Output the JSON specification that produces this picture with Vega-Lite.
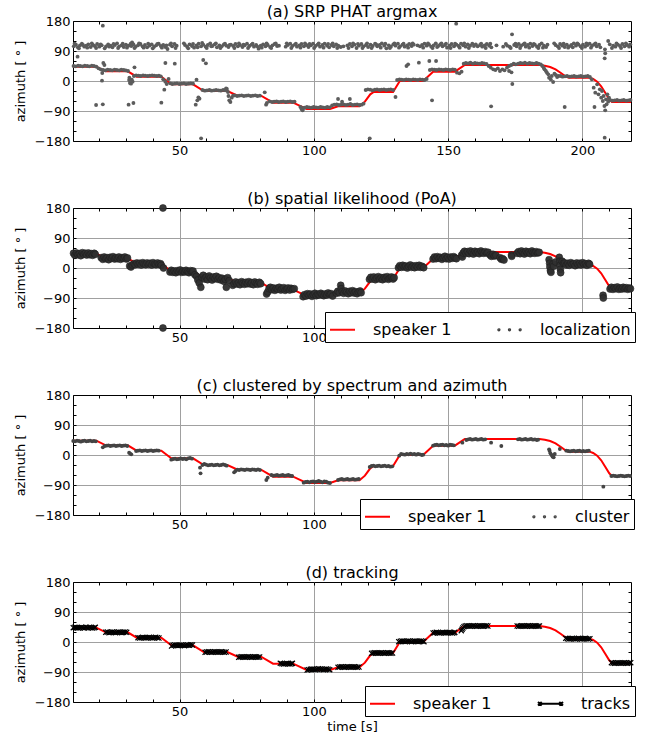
{
"$schema": "https://vega.github.io/schema/vega-lite/v6.json",
"padding": {"left": 13, "top": 3, "right": 8, "bottom": 1},
"background": "white",
"spacing": 32,
"config": {
  "font": "DejaVu Sans",
  "view": {"stroke": "black", "strokeWidth": 1},
  "title": {"fontSize": 16, "fontWeight": "normal", "font": "DejaVu Sans", "offset": -5, "anchor": "middle", "frame": "group", "color": "black"},
  "axis": {"domain": false, "tickColor": "black", "tickSize": -3, "tickWidth": 1, "labelFontSize": 13, "labelFont": "DejaVu Sans", "labelColor": "black", "titleFontSize": 13, "titleFont": "DejaVu Sans", "titleFontWeight": "normal", "titleColor": "black", "labelPadding": 6, "labelOverlap": false, "labelFlush": false, "labelBound": false, "gridWidth": 1},
  "axisY": {"titlePadding": 7},
  "legend": {"orient": "none", "direction": "horizontal", "title": null, "strokeColor": "black", "fillColor": "white", "padding": 4, "labelFontSize": 16, "labelFont": "DejaVu Sans", "labelColor": "black", "symbolSize": 625, "symbolStrokeWidth": 2, "columnPadding": 42, "labelOffset": 17, "cornerRadius": 0}
},
"resolve": {"scale": {"color": "independent", "shape": "independent"}, "legend": {"color": "independent", "shape": "independent"}},
"datasets": {
"gt": [{"t":10.3,"a":43},{"t":19,"a":43},{"t":22.5,"a":29},{"t":30.7,"a":29},{"t":34,"a":13},{"t":43.2,"a":13},{"t":46.9,"a":-10},{"t":55,"a":-10},{"t":59,"a":-30},{"t":67.8,"a":-30},{"t":71.8,"a":-45},{"t":80.5,"a":-45},{"t":84.8,"a":-65},{"t":92.3,"a":-65},{"t":97.3,"a":-84},{"t":106,"a":-84},{"t":109,"a":-76},{"t":117,"a":-76},{"t":119,"a":-62},{"t":121,"a":-40},{"t":122.3,"a":-33},{"t":129.5,"a":-33},{"t":132,"a":0},{"t":140.7,"a":0},{"t":144.4,"a":28},{"t":152.5,"a":28},{"t":156.2,"a":48},{"t":184,"a":48},{"t":186,"a":46},{"t":188,"a":42},{"t":190,"a":35},{"t":192,"a":24},{"t":193.8,"a":13},{"t":195,"a":10},{"t":202.7,"a":10},{"t":204,"a":6},{"t":205.5,"a":-2},{"t":207,"a":-16},{"t":208.5,"a":-35},{"t":210,"a":-55},{"t":211,"a":-63},{"t":218.1,"a":-63}],
"la": [
{"t":10.6,"a":104},{"t":11.4,"a":109},{"t":12.1,"a":101},{"t":12.9,"a":107},{"t":13.6,"a":112},{"t":14.5,"a":103},{"t":15.2,"a":106},{"t":16.0,"a":110},{"t":16.9,"a":102},{"t":17.7,"a":108},{"t":18.4,"a":105},{"t":19.3,"a":111},{"t":20.1,"a":103},{"t":21.0,"a":107},{"t":22.6,"a":104},{"t":23.4,"a":110},{"t":24.3,"a":106},{"t":25.0,"a":101},{"t":25.9,"a":108},{"t":26.7,"a":113},{"t":27.5,"a":104},{"t":28.4,"a":107},{"t":29.2,"a":102},{"t":30.0,"a":109},{"t":30.9,"a":106},{"t":31.8,"a":112},{"t":32.3,"a":116},{"t":32.8,"a":110},{"t":33.6,"a":103},{"t":34.5,"a":107},{"t":35.4,"a":111},{"t":36.2,"a":104},{"t":37.1,"a":108},{"t":37.9,"a":101},{"t":38.8,"a":106},{"t":39.6,"a":110},{"t":40.5,"a":103},{"t":41.3,"a":107},{"t":42.2,"a":112},{"t":43.0,"a":105},{"t":43.9,"a":108},{"t":44.7,"a":102},{"t":45.5,"a":96},{"t":46.4,"a":109},{"t":47.2,"a":104},{"t":48.1,"a":111},{"t":48.9,"a":106},{"t":52.0,"a":108},{"t":52.8,"a":103},{"t":53.7,"a":110},{"t":54.6,"a":105},{"t":55.4,"a":100},{"t":56.3,"a":107},{"t":57.1,"a":112},{"t":58.0,"a":104},{"t":58.8,"a":109},{"t":59.7,"a":103},{"t":60.5,"a":108},{"t":61.4,"a":113},{"t":62.2,"a":105},{"t":63.1,"a":110},{"t":63.9,"a":101},{"t":64.8,"a":107},{"t":65.7,"a":104},{"t":66.5,"a":110},{"t":67.4,"a":106},{"t":68.2,"a":102},{"t":69.1,"a":109},{"t":70.0,"a":105},{"t":70.8,"a":111},{"t":71.7,"a":104},{"t":72.5,"a":108},{"t":73.4,"a":102},{"t":74.2,"a":107},{"t":75.1,"a":112},{"t":76.0,"a":105},{"t":76.8,"a":109},{"t":77.7,"a":103},{"t":78.5,"a":108},{"t":79.4,"a":97},{"t":80.2,"a":106},{"t":81.1,"a":110},{"t":82.0,"a":104},{"t":82.8,"a":108},{"t":83.7,"a":102},{"t":84.6,"a":107},{"t":85.4,"a":111},{"t":86.3,"a":105},{"t":89.5,"a":103},{"t":90.3,"a":108},{"t":91.2,"a":112},{"t":92.0,"a":105},{"t":92.9,"a":109},{"t":93.7,"a":103},{"t":94.6,"a":107},{"t":95.4,"a":111},{"t":96.3,"a":104},{"t":97.2,"a":108},{"t":98.0,"a":102},{"t":98.9,"a":107},{"t":99.7,"a":112},{"t":100.6,"a":105},{"t":101.4,"a":109},{"t":102.3,"a":103},{"t":103.2,"a":108},{"t":104.0,"a":112},{"t":104.9,"a":106},{"t":105.7,"a":101},{"t":106.6,"a":108},{"t":107.4,"a":104},{"t":108.3,"a":110},{"t":109.1,"a":106},{"t":110.0,"a":102},{"t":112.5,"a":107},{"t":113.4,"a":111},{"t":114.2,"a":104},{"t":115.1,"a":109},{"t":115.9,"a":99},{"t":116.8,"a":106},{"t":117.7,"a":111},{"t":118.5,"a":104},{"t":119.4,"a":108},{"t":120.2,"a":102},{"t":121.1,"a":109},{"t":121.9,"a":105},{"t":122.8,"a":112},{"t":123.6,"a":104},{"t":124.5,"a":108},{"t":125.3,"a":113},{"t":126.2,"a":106},{"t":127.0,"a":98},{"t":127.9,"a":107},{"t":128.7,"a":103},{"t":129.6,"a":110},{"t":130.4,"a":106},{"t":131.3,"a":112},{"t":132.1,"a":104},{"t":133.0,"a":109},{"t":133.8,"a":103},{"t":134.7,"a":107},{"t":135.5,"a":111},{"t":136.4,"a":105},{"t":137.2,"a":109},{"t":139.5,"a":104},{"t":140.3,"a":108},{"t":141.2,"a":112},{"t":142.0,"a":106},{"t":142.9,"a":109},{"t":143.7,"a":103},{"t":144.6,"a":107},{"t":145.4,"a":113},{"t":146.3,"a":105},{"t":147.1,"a":110},{"t":147.9,"a":104},{"t":148.8,"a":108},{"t":149.6,"a":100},{"t":150.5,"a":106},{"t":151.3,"a":111},{"t":152.2,"a":104},{"t":153.0,"a":172},{"t":153.1,"a":109},{"t":153.9,"a":105},{"t":154.8,"a":112},{"t":155.6,"a":107},{"t":156.5,"a":103},{"t":157.3,"a":110},{"t":158.2,"a":106},{"t":159.0,"a":112},{"t":161.0,"a":104},{"t":161.9,"a":108},{"t":162.7,"a":103},{"t":163.6,"a":107},{"t":164.4,"a":111},{"t":165.3,"a":106},{"t":166.1,"a":101},{"t":172.0,"a":106},{"t":172.9,"a":103},{"t":173.8,"a":140},{"t":174.6,"a":108},{"t":175.5,"a":104},{"t":176.3,"a":111},{"t":177.2,"a":106},{"t":178.0,"a":110},{"t":178.9,"a":103},{"t":179.7,"a":108},{"t":180.6,"a":112},{"t":181.4,"a":105},{"t":182.3,"a":109},{"t":183.1,"a":103},{"t":184.0,"a":108},{"t":184.8,"a":113},{"t":185.7,"a":106},{"t":186.5,"a":102},{"t":190.0,"a":108},{"t":190.8,"a":104},{"t":191.7,"a":111},{"t":192.5,"a":106},{"t":193.4,"a":102},{"t":194.2,"a":109},{"t":195.1,"a":104},{"t":195.9,"a":108},{"t":196.8,"a":113},{"t":197.6,"a":106},{"t":198.5,"a":110},{"t":199.3,"a":104},{"t":200.2,"a":109},{"t":201.0,"a":103},{"t":201.9,"a":108},{"t":202.7,"a":112},{"t":203.6,"a":106},{"t":204.4,"a":110},{"t":205.3,"a":104},{"t":206.2,"a":109},{"t":208.4,"a":95},{"t":208.5,"a":83},{"t":208.3,"a":68},{"t":210.2,"a":110},{"t":211.5,"a":106},{"t":212.3,"a":103},{"t":213.2,"a":109},{"t":214.0,"a":105},{"t":214.9,"a":111},{"t":215.7,"a":104},{"t":216.6,"a":108},{"t":217.4,"a":103},
{"t":10.9,"a":112},{"t":12.5,"a":98},{"t":14.0,"a":108},{"t":15.6,"a":100},{"t":17.3,"a":113},{"t":18.9,"a":99},{"t":20.6,"a":110},{"t":22.1,"a":98},{"t":23.8,"a":103},{"t":25.4,"a":111},{"t":27.1,"a":99},{"t":28.8,"a":112},{"t":30.4,"a":100},{"t":32.0,"a":105},{"t":33.2,"a":99},{"t":34.9,"a":113},{"t":36.6,"a":100},{"t":38.3,"a":112},{"t":40.0,"a":98},{"t":41.7,"a":111},{"t":43.4,"a":100},{"t":45.1,"a":107},{"t":46.8,"a":113},{"t":48.5,"a":99},{"t":51.6,"a":113},{"t":53.2,"a":98},{"t":55.0,"a":111},{"t":56.7,"a":101},{"t":58.4,"a":114},{"t":60.1,"a":99},{"t":61.8,"a":104},{"t":63.5,"a":113},{"t":65.2,"a":99},{"t":66.9,"a":112},{"t":68.6,"a":108},{"t":70.4,"a":99},{"t":72.1,"a":113},{"t":73.8,"a":109},{"t":75.5,"a":99},{"t":77.2,"a":112},{"t":78.9,"a":104},{"t":80.6,"a":100},{"t":82.4,"a":113},{"t":84.1,"a":99},{"t":85.8,"a":113},{"t":87.0,"a":106},{"t":89.9,"a":113},{"t":91.6,"a":99},{"t":93.3,"a":112},{"t":95.0,"a":100},{"t":96.7,"a":113},{"t":98.4,"a":111},{"t":100.1,"a":99},{"t":101.8,"a":113},{"t":103.6,"a":100},{"t":105.3,"a":111},{"t":107.0,"a":113},{"t":108.7,"a":99},{"t":111.0,"a":104},{"t":112.9,"a":99},{"t":114.6,"a":113},{"t":116.4,"a":111},{"t":118.1,"a":99},{"t":119.8,"a":113},{"t":121.5,"a":99},{"t":123.2,"a":110},{"t":124.9,"a":100},{"t":126.6,"a":112},{"t":128.3,"a":99},{"t":130.0,"a":113},{"t":131.7,"a":100},{"t":133.4,"a":112},{"t":135.1,"a":100},{"t":136.8,"a":113},{"t":138.6,"a":107},{"t":140.7,"a":100},{"t":142.5,"a":113},{"t":144.2,"a":99},{"t":145.9,"a":102},{"t":147.5,"a":113},{"t":149.2,"a":112},{"t":150.9,"a":99},{"t":152.6,"a":112},{"t":154.3,"a":100},{"t":156.0,"a":113},{"t":157.7,"a":99},{"t":159.6,"a":105},{"t":160.3,"a":110},{"t":162.3,"a":112},{"t":164.0,"a":99},{"t":165.7,"a":112},{"t":168.0,"a":107},{"t":170.5,"a":103},{"t":171.5,"a":111},{"t":173.3,"a":99},{"t":175.1,"a":112},{"t":176.8,"a":99},{"t":178.5,"a":113},{"t":180.2,"a":100},{"t":181.9,"a":111},{"t":183.6,"a":99},{"t":185.3,"a":100},{"t":187.0,"a":109},{"t":189.5,"a":113},{"t":191.3,"a":99},{"t":193.0,"a":112},{"t":194.7,"a":100},{"t":196.4,"a":101},{"t":198.1,"a":113},{"t":199.8,"a":99},{"t":201.5,"a":113},{"t":203.2,"a":100},{"t":204.9,"a":113},{"t":206.7,"a":101},{"t":209.6,"a":120},{"t":211.0,"a":99},{"t":212.7,"a":113},{"t":214.4,"a":99},{"t":216.2,"a":113},{"t":217.8,"a":110},
{"t":10.5,"a":45},{"t":11.3,"a":44},{"t":12.2,"a":46},{"t":13.0,"a":45},{"t":13.9,"a":44},{"t":14.7,"a":46},{"t":15.6,"a":45},{"t":16.4,"a":44},{"t":17.3,"a":46},{"t":18.1,"a":45},{"t":19.0,"a":43},{"t":19.8,"a":38},{"t":20.6,"a":35},
{"t":18.9,"a":-72},{"t":21.4,"a":-70},{"t":21.4,"a":166},{"t":12.0,"a":73},{"t":21.6,"a":54},{"t":22.0,"a":48},{"t":21.2,"a":24},{"t":21.1,"a":1},
{"t":21.5,"a":33},{"t":22.4,"a":32},{"t":23.2,"a":34},{"t":24.1,"a":33},{"t":24.9,"a":32},{"t":25.8,"a":34},{"t":26.6,"a":33},{"t":27.5,"a":32},{"t":28.3,"a":34},{"t":29.2,"a":33},{"t":30.0,"a":32},{"t":30.8,"a":30},
{"t":31.2,"a":3},{"t":31.5,"a":-6},{"t":31.9,"a":-8},{"t":32.2,"a":4},{"t":32.5,"a":-2},{"t":31.0,"a":-71},{"t":32.8,"a":-66},{"t":33.2,"a":41},{"t":31.3,"a":10},
{"t":33.0,"a":15},{"t":33.8,"a":17},{"t":34.7,"a":16},{"t":35.5,"a":15},{"t":36.4,"a":17},{"t":37.2,"a":16},{"t":38.1,"a":15},{"t":38.9,"a":16},{"t":39.8,"a":17},{"t":40.6,"a":16},{"t":41.5,"a":15},{"t":42.3,"a":16},{"t":43.0,"a":14},
{"t":43.9,"a":5},{"t":44.7,"a":-2},{"t":43.2,"a":-65},{"t":44.7,"a":54},{"t":44.3,"a":-26},{"t":45.2,"a":-9},{"t":45.9,"a":6},{"t":48.2,"a":52},
{"t":46.5,"a":-7},{"t":47.3,"a":-9},{"t":48.2,"a":-8},{"t":49.0,"a":-7},{"t":49.9,"a":-9},{"t":50.7,"a":-8},{"t":51.6,"a":-7},{"t":52.4,"a":-9},{"t":53.3,"a":-8},{"t":54.1,"a":-7},{"t":55.0,"a":-8},
{"t":56.3,"a":4},{"t":56.0,"a":-71},{"t":56.6,"a":-58},{"t":57.0,"a":-49},{"t":57.4,"a":-53},{"t":58.0,"a":-172},{"t":58.8,"a":63},{"t":59.8,"a":53},
{"t":58.5,"a":-27},{"t":59.4,"a":-29},{"t":60.2,"a":-28},{"t":61.1,"a":-27},{"t":61.9,"a":-29},{"t":62.8,"a":-28},{"t":63.6,"a":-27},{"t":64.5,"a":-28},{"t":65.3,"a":-29},{"t":66.2,"a":-27},{"t":67.0,"a":-28},{"t":67.6,"a":-24},
{"t":67.3,"a":-22},{"t":68.0,"a":-33},{"t":68.2,"a":-45},{"t":68.5,"a":-58},{"t":68.9,"a":-63},{"t":69.4,"a":-50},{"t":69.9,"a":-44},
{"t":70.5,"a":-43},{"t":71.4,"a":-45},{"t":72.2,"a":-44},{"t":73.1,"a":-43},{"t":73.9,"a":-45},{"t":74.8,"a":-44},{"t":75.6,"a":-43},{"t":76.5,"a":-45},{"t":77.3,"a":-44},{"t":78.2,"a":-43},{"t":79.0,"a":-45},{"t":79.9,"a":-44},
{"t":81.7,"a":-34},{"t":82.2,"a":-71},{"t":82.5,"a":-66},
{"t":83.5,"a":-61},{"t":84.4,"a":-63},{"t":85.2,"a":-62},{"t":86.1,"a":-61},{"t":86.9,"a":-63},{"t":87.8,"a":-62},{"t":88.6,"a":-61},{"t":89.5,"a":-63},{"t":90.3,"a":-62},{"t":91.2,"a":-61},{"t":92.0,"a":-63},{"t":92.8,"a":-62},
{"t":95.0,"a":-78},{"t":95.4,"a":-84},{"t":95.8,"a":-88},{"t":96.1,"a":-81},
{"t":96.5,"a":-80},{"t":97.4,"a":-78},{"t":98.2,"a":-79},{"t":99.1,"a":-80},{"t":99.9,"a":-78},{"t":100.8,"a":-79},{"t":101.6,"a":-80},{"t":102.5,"a":-78},{"t":103.3,"a":-79},{"t":104.2,"a":-80},{"t":105.0,"a":-78},{"t":105.9,"a":-79},
{"t":106.8,"a":-73},{"t":107.6,"a":-71},{"t":108.5,"a":-70},{"t":109.3,"a":-72},{"t":110.2,"a":-71},{"t":111.0,"a":-70},{"t":111.9,"a":-72},{"t":112.7,"a":-71},{"t":113.6,"a":-69},{"t":114.4,"a":-72},{"t":115.3,"a":-71},{"t":116.1,"a":-70},{"t":117.0,"a":-72},{"t":117.8,"a":-71},{"t":118.5,"a":-68},
{"t":109.0,"a":-54},{"t":113.4,"a":-54},{"t":110.5,"a":-62},{"t":120.8,"a":-172},
{"t":119.3,"a":-27},{"t":120.1,"a":-25},{"t":121.0,"a":-26},{"t":121.8,"a":-28},{"t":122.7,"a":-26},{"t":123.5,"a":-25},{"t":124.4,"a":-27},{"t":125.2,"a":-26},{"t":126.1,"a":-25},{"t":126.9,"a":-27},{"t":127.8,"a":-26},{"t":128.6,"a":-25},{"t":129.5,"a":-27},
{"t":130.4,"a":-48},
{"t":131.0,"a":3},{"t":131.9,"a":5},{"t":132.7,"a":4},{"t":133.6,"a":3},{"t":134.4,"a":5},{"t":135.3,"a":4},{"t":136.1,"a":3},{"t":137.0,"a":5},{"t":137.8,"a":4},{"t":138.7,"a":3},{"t":139.5,"a":5},{"t":140.4,"a":4},{"t":141.2,"a":3},{"t":142.0,"a":6},
{"t":134.5,"a":45},{"t":135.1,"a":50},{"t":139.1,"a":55},{"t":143.0,"a":60},{"t":145.5,"a":60},{"t":144.0,"a":-58},
{"t":143.2,"a":33},{"t":144.0,"a":35},{"t":144.9,"a":34},{"t":145.7,"a":33},{"t":146.6,"a":35},{"t":147.4,"a":34},{"t":148.3,"a":33},{"t":149.1,"a":35},{"t":150.0,"a":34},{"t":150.8,"a":33},{"t":151.7,"a":35},{"t":152.5,"a":34},
{"t":153.3,"a":25},{"t":154.2,"a":23},{"t":155.0,"a":28},
{"t":155.8,"a":52},{"t":156.6,"a":54},{"t":157.5,"a":53},{"t":158.3,"a":55},{"t":159.2,"a":52},{"t":160.0,"a":54},{"t":160.9,"a":53},{"t":161.7,"a":52},{"t":162.6,"a":54},{"t":163.4,"a":53},{"t":164.3,"a":51},
{"t":165.1,"a":45},{"t":165.9,"a":40},{"t":166.8,"a":35},{"t":167.6,"a":33},{"t":168.5,"a":38},{"t":169.3,"a":30},{"t":170.2,"a":35},{"t":171.0,"a":32},{"t":171.9,"a":40},{"t":172.7,"a":45},{"t":173.5,"a":48},{"t":174.4,"a":52},{"t":175.2,"a":50},
{"t":173.6,"a":26},{"t":172.7,"a":30},{"t":173.9,"a":-9},{"t":166.0,"a":-76},
{"t":176.1,"a":52},{"t":176.9,"a":54},{"t":177.8,"a":53},{"t":178.6,"a":55},{"t":179.5,"a":52},{"t":180.3,"a":54},{"t":181.2,"a":53},{"t":182.0,"a":52},{"t":182.9,"a":54},{"t":183.7,"a":52},
{"t":184.5,"a":50},{"t":185.1,"a":45},{"t":185.6,"a":40},{"t":185.9,"a":35},{"t":186.4,"a":30},{"t":186.8,"a":25},{"t":187.3,"a":20},{"t":187.6,"a":10},{"t":188.2,"a":5},{"t":188.6,"a":15},{"t":189.1,"a":-3},{"t":189.6,"a":22},{"t":190.1,"a":18},{"t":190.6,"a":12},{"t":191.0,"a":15},
{"t":191.8,"a":15},{"t":192.6,"a":13},{"t":193.5,"a":14},{"t":194.3,"a":15},{"t":195.2,"a":13},{"t":196.0,"a":14},{"t":196.9,"a":15},{"t":197.7,"a":13},{"t":198.6,"a":14},{"t":199.4,"a":15},{"t":200.3,"a":13},{"t":201.1,"a":14},{"t":202.0,"a":15},{"t":202.8,"a":12},
{"t":193.4,"a":-78},
{"t":203.5,"a":5},{"t":204.2,"a":-20},{"t":204.5,"a":-78},{"t":204.8,"a":-35},{"t":205.5,"a":-10},{"t":206.0,"a":-40},{"t":206.5,"a":-25},{"t":207.0,"a":-50},{"t":207.3,"a":-30},{"t":207.6,"a":-60},{"t":207.9,"a":-45},{"t":208.2,"a":-75},{"t":208.5,"a":-88},{"t":208.8,"a":-55},{"t":209.0,"a":-70},{"t":209.3,"a":-40},{"t":209.6,"a":-62},{"t":208.3,"a":-170},{"t":209.9,"a":-50},
{"t":210.3,"a":-57},{"t":211.2,"a":-59},{"t":212.0,"a":-58},{"t":212.9,"a":-57},{"t":213.7,"a":-59},{"t":214.6,"a":-58},{"t":215.4,"a":-57},{"t":216.3,"a":-59},{"t":217.1,"a":-58},{"t":217.9,"a":-57}
],
"lb": [
{"t":10.5,"a":44},{"t":11.0,"a":38},{"t":11.6,"a":45},{"t":12.1,"a":40},{"t":12.7,"a":43},{"t":13.2,"a":37},{"t":13.8,"a":46},{"t":14.3,"a":41},{"t":14.9,"a":44},{"t":15.4,"a":39},{"t":16.0,"a":45},{"t":16.5,"a":40},{"t":17.1,"a":43},{"t":17.6,"a":38},{"t":18.2,"a":44},{"t":18.6,"a":41},
{"t":20.8,"a":31},{"t":21.4,"a":26},{"t":21.9,"a":33},{"t":22.5,"a":28},{"t":23.0,"a":31},{"t":23.6,"a":25},{"t":24.1,"a":32},{"t":24.7,"a":29},{"t":25.2,"a":34},{"t":25.8,"a":27},{"t":26.3,"a":31},{"t":26.9,"a":28},{"t":27.4,"a":33},{"t":28.0,"a":26},{"t":28.5,"a":31},{"t":29.1,"a":29},{"t":29.6,"a":33},{"t":30.2,"a":27},{"t":30.6,"a":30},
{"t":31.4,"a":6},{"t":31.9,"a":3},{"t":32.4,"a":9},{"t":33.0,"a":13},{"t":33.5,"a":10},{"t":34.1,"a":15},{"t":34.6,"a":11},{"t":35.2,"a":14},{"t":35.7,"a":9},{"t":36.3,"a":16},{"t":36.8,"a":12},{"t":37.4,"a":10},{"t":37.9,"a":15},{"t":38.5,"a":11},{"t":39.0,"a":14},{"t":39.6,"a":9},{"t":40.1,"a":16},{"t":40.7,"a":12},{"t":41.2,"a":10},{"t":41.8,"a":15},{"t":42.3,"a":11},{"t":42.9,"a":13},{"t":43.2,"a":8},
{"t":43.8,"a":180},{"t":43.8,"a":-180},{"t":44.0,"a":0},
{"t":46.4,"a":-12},{"t":46.9,"a":-7},{"t":47.5,"a":-13},{"t":48.0,"a":-9},{"t":48.6,"a":-14},{"t":49.1,"a":-8},{"t":49.7,"a":-11},{"t":50.2,"a":-6},{"t":50.8,"a":-13},{"t":51.3,"a":-9},{"t":51.9,"a":-12},{"t":52.4,"a":-7},{"t":53.0,"a":-11},{"t":53.5,"a":-14},{"t":54.1,"a":-8},{"t":54.6,"a":-11},{"t":55.0,"a":-9},
{"t":55.7,"a":-20},{"t":56.3,"a":-25},{"t":56.8,"a":-36},{"t":57.3,"a":-45},{"t":57.9,"a":-58},{"t":58.3,"a":-28},{"t":58.8,"a":-22},{"t":59.3,"a":-33},{"t":59.9,"a":-27},{"t":60.4,"a":-35},{"t":61.0,"a":-24},{"t":61.5,"a":-30},{"t":62.1,"a":-36},{"t":62.6,"a":-27},{"t":63.2,"a":-32},{"t":63.7,"a":-25},{"t":64.3,"a":-34},{"t":64.8,"a":-29},{"t":65.4,"a":-36},{"t":65.9,"a":-31},{"t":66.5,"a":-40},{"t":67.4,"a":-58},{"t":67.0,"a":-34},{"t":67.9,"a":-29},{"t":68.5,"a":-38},
{"t":69.8,"a":-52},{"t":70.3,"a":-47},{"t":70.9,"a":-42},{"t":71.4,"a":-48},{"t":72.0,"a":-44},{"t":72.5,"a":-50},{"t":73.1,"a":-41},{"t":73.6,"a":-46},{"t":74.2,"a":-49},{"t":74.7,"a":-43},{"t":75.3,"a":-47},{"t":75.8,"a":-41},{"t":76.4,"a":-48},{"t":76.9,"a":-44},{"t":77.5,"a":-50},{"t":78.0,"a":-42},{"t":78.6,"a":-46},{"t":79.1,"a":-49},{"t":79.7,"a":-43},{"t":80.2,"a":-47},
{"t":82.4,"a":-78},{"t":82.8,"a":-72},{"t":83.3,"a":-62},{"t":83.8,"a":-58},{"t":84.4,"a":-65},{"t":84.9,"a":-60},{"t":85.5,"a":-67},{"t":86.0,"a":-61},{"t":86.6,"a":-64},{"t":87.1,"a":-58},{"t":87.7,"a":-66},{"t":88.2,"a":-62},{"t":88.8,"a":-59},{"t":89.3,"a":-67},{"t":89.9,"a":-63},{"t":90.4,"a":-60},{"t":91.0,"a":-66},{"t":91.5,"a":-61},{"t":92.1,"a":-64},{"t":92.7,"a":-62},
{"t":96.0,"a":-86},{"t":96.5,"a":-80},{"t":97.1,"a":-84},{"t":97.6,"a":-77},{"t":98.2,"a":-82},{"t":98.7,"a":-78},{"t":99.3,"a":-85},{"t":99.8,"a":-80},{"t":100.4,"a":-76},{"t":100.9,"a":-83},{"t":101.5,"a":-79},{"t":102.0,"a":-81},{"t":102.6,"a":-76},{"t":103.1,"a":-80},{"t":103.7,"a":-83},{"t":104.2,"a":-78},{"t":104.8,"a":-81},{"t":105.3,"a":-75},{"t":105.9,"a":-79},{"t":106.4,"a":-77},{"t":107.0,"a":-84},
{"t":108.4,"a":-76},{"t":108.9,"a":-70},{"t":109.5,"a":-74},{"t":110.0,"a":-52},{"t":110.2,"a":-62},{"t":110.6,"a":-71},{"t":111.1,"a":-76},{"t":111.7,"a":-69},{"t":112.2,"a":-73},{"t":112.8,"a":-77},{"t":113.3,"a":-70},{"t":113.9,"a":-74},{"t":114.4,"a":-68},{"t":115.0,"a":-75},{"t":115.5,"a":-71},{"t":116.1,"a":-77},{"t":116.6,"a":-72},{"t":117.2,"a":-69},{"t":117.6,"a":-74},
{"t":120.7,"a":-34},{"t":121.2,"a":-28},{"t":121.8,"a":-33},{"t":122.3,"a":-27},{"t":122.9,"a":-35},{"t":123.4,"a":-30},{"t":124.0,"a":-26},{"t":124.5,"a":-33},{"t":125.1,"a":-29},{"t":125.6,"a":-35},{"t":126.2,"a":-28},{"t":126.7,"a":-32},{"t":127.3,"a":-26},{"t":127.8,"a":-34},{"t":128.4,"a":-30},{"t":128.9,"a":-27},{"t":129.5,"a":-33},{"t":129.9,"a":-29},
{"t":131.5,"a":1},{"t":132.0,"a":7},{"t":132.6,"a":2},{"t":133.1,"a":8},{"t":133.7,"a":3},{"t":134.2,"a":6},{"t":134.8,"a":0},{"t":135.3,"a":5},{"t":135.9,"a":9},{"t":136.4,"a":2},{"t":137.0,"a":6},{"t":137.5,"a":1},{"t":138.1,"a":7},{"t":138.6,"a":3},{"t":139.2,"a":8},{"t":139.7,"a":2},{"t":140.3,"a":5},{"t":140.9,"a":1},
{"t":144.4,"a":27},{"t":144.9,"a":33},{"t":145.5,"a":28},{"t":146.0,"a":34},{"t":146.6,"a":29},{"t":147.1,"a":32},{"t":147.7,"a":26},{"t":148.2,"a":31},{"t":148.8,"a":35},{"t":149.3,"a":28},{"t":149.9,"a":32},{"t":150.4,"a":27},{"t":151.0,"a":33},{"t":151.5,"a":29},{"t":152.1,"a":34},{"t":152.6,"a":30},{"t":153.1,"a":28},
{"t":155.0,"a":38},{"t":155.3,"a":33},{"t":155.6,"a":45},{"t":156.1,"a":50},{"t":156.7,"a":44},{"t":157.2,"a":49},{"t":157.8,"a":43},{"t":158.3,"a":51},{"t":158.9,"a":46},{"t":159.4,"a":42},{"t":160.0,"a":50},{"t":160.5,"a":45},{"t":161.1,"a":48},{"t":161.6,"a":43},{"t":162.2,"a":51},{"t":162.7,"a":46},{"t":163.3,"a":44},{"t":163.8,"a":49},{"t":164.4,"a":45},{"t":164.9,"a":47},
{"t":165.6,"a":39},{"t":166.1,"a":35},{"t":166.7,"a":41},{"t":167.2,"a":36},{"t":167.8,"a":38},{"t":169.3,"a":31},{"t":169.8,"a":26},{"t":170.3,"a":28},{"t":170.8,"a":24},{"t":173.6,"a":39},{"t":173.7,"a":35},
{"t":175.7,"a":44},{"t":176.2,"a":49},{"t":176.8,"a":43},{"t":177.3,"a":51},{"t":177.9,"a":46},{"t":178.4,"a":42},{"t":179.0,"a":50},{"t":179.5,"a":45},{"t":180.1,"a":48},{"t":180.6,"a":43},{"t":181.2,"a":51},{"t":181.7,"a":46},{"t":182.3,"a":44},{"t":182.8,"a":49},{"t":183.4,"a":45},{"t":183.9,"a":47},
{"t":187.6,"a":25},{"t":187.8,"a":14},{"t":187.9,"a":3},{"t":188.1,"a":-8},{"t":188.3,"a":-13},{"t":189.1,"a":12},{"t":189.3,"a":5},{"t":190.0,"a":18},{"t":191.4,"a":32},{"t":191.6,"a":20},{"t":191.7,"a":8},{"t":191.8,"a":-4},{"t":191.9,"a":-14},{"t":192.5,"a":20},{"t":193.0,"a":14},
{"t":193.5,"a":15},{"t":194.0,"a":9},{"t":194.6,"a":14},{"t":195.1,"a":8},{"t":195.7,"a":16},{"t":196.2,"a":11},{"t":196.8,"a":13},{"t":197.3,"a":7},{"t":197.9,"a":15},{"t":198.4,"a":10},{"t":199.0,"a":14},{"t":199.5,"a":9},{"t":200.1,"a":16},{"t":200.6,"a":11},{"t":201.2,"a":13},{"t":201.7,"a":8},{"t":202.3,"a":14},{"t":202.7,"a":11},
{"t":207.7,"a":-82},{"t":207.8,"a":-90},
{"t":210.3,"a":-63},{"t":210.8,"a":-58},{"t":211.4,"a":-64},{"t":211.9,"a":-59},{"t":212.5,"a":-62},{"t":213.0,"a":-57},{"t":213.6,"a":-64},{"t":214.1,"a":-60},{"t":214.7,"a":-63},{"t":215.2,"a":-58},{"t":215.8,"a":-62},{"t":216.3,"a":-59},{"t":216.9,"a":-64},{"t":217.4,"a":-60},{"t":217.9,"a":-62}
],
"lc": [
{"t":10.4,"a":42},{"t":11.1,"a":41},{"t":11.8,"a":43},{"t":12.5,"a":42},{"t":13.2,"a":40},{"t":13.9,"a":42},{"t":14.6,"a":43},{"t":15.3,"a":41},{"t":16.0,"a":42},{"t":16.7,"a":43},{"t":17.4,"a":41},{"t":18.1,"a":42},{"t":18.8,"a":41},
{"t":21.4,"a":23},{"t":22.1,"a":27},{"t":22.8,"a":28},{"t":23.5,"a":29},{"t":24.2,"a":27},{"t":24.9,"a":28},{"t":25.6,"a":29},{"t":26.3,"a":27},{"t":27.0,"a":28},{"t":27.7,"a":29},{"t":28.4,"a":27},{"t":29.1,"a":28},{"t":29.8,"a":29},{"t":30.5,"a":27},
{"t":31.2,"a":7},{"t":32.0,"a":2},{"t":31.6,"a":4},
{"t":33.8,"a":12},{"t":34.5,"a":13},{"t":35.2,"a":14},{"t":35.9,"a":12},{"t":36.6,"a":13},{"t":37.3,"a":14},{"t":38.0,"a":12},{"t":38.7,"a":13},{"t":39.4,"a":14},{"t":40.1,"a":12},{"t":40.8,"a":13},{"t":41.5,"a":14},{"t":42.2,"a":13},
{"t":46.9,"a":-14},{"t":47.6,"a":-12},{"t":48.3,"a":-11},{"t":49.0,"a":-13},{"t":49.7,"a":-12},{"t":50.4,"a":-10},{"t":51.1,"a":-12},{"t":51.8,"a":-11},{"t":52.5,"a":-13},{"t":53.2,"a":-10},{"t":53.9,"a":-9},{"t":54.6,"a":-11},
{"t":57.6,"a":-38},{"t":57.8,"a":-55},
{"t":58.5,"a":-30},{"t":59.2,"a":-27},{"t":59.9,"a":-29},{"t":60.6,"a":-31},{"t":61.3,"a":-30},{"t":62.0,"a":-29},{"t":62.7,"a":-31},{"t":63.4,"a":-30},{"t":64.1,"a":-29},{"t":64.8,"a":-31},{"t":65.5,"a":-30},{"t":66.2,"a":-28},{"t":66.9,"a":-30},{"t":67.5,"a":-32},
{"t":70.3,"a":-52},{"t":70.8,"a":-48},{"t":71.5,"a":-44},{"t":72.2,"a":-45},{"t":72.9,"a":-43},{"t":73.6,"a":-44},{"t":74.3,"a":-45},{"t":75.0,"a":-43},{"t":75.7,"a":-44},{"t":76.4,"a":-45},{"t":77.1,"a":-43},{"t":77.8,"a":-44},{"t":78.5,"a":-45},{"t":79.2,"a":-43},{"t":79.9,"a":-45},
{"t":82.3,"a":-75},{"t":82.8,"a":-68},
{"t":84.2,"a":-60},{"t":84.9,"a":-62},{"t":85.6,"a":-61},{"t":86.3,"a":-60},{"t":87.0,"a":-62},{"t":87.7,"a":-61},{"t":88.4,"a":-60},{"t":89.1,"a":-62},{"t":89.8,"a":-61},{"t":90.5,"a":-60},{"t":91.2,"a":-62},{"t":91.9,"a":-63},
{"t":96.2,"a":-83},{"t":96.9,"a":-81},{"t":97.6,"a":-80},{"t":98.3,"a":-82},{"t":99.0,"a":-80},{"t":99.7,"a":-79},{"t":100.4,"a":-81},{"t":101.1,"a":-80},{"t":101.8,"a":-78},{"t":102.5,"a":-80},{"t":103.2,"a":-82},{"t":103.9,"a":-79},{"t":104.6,"a":-80},{"t":105.3,"a":-83},{"t":106.0,"a":-84},
{"t":109.0,"a":-75},{"t":109.7,"a":-73},{"t":110.4,"a":-72},{"t":111.1,"a":-74},{"t":111.8,"a":-73},{"t":112.5,"a":-72},{"t":113.2,"a":-74},{"t":113.9,"a":-73},{"t":114.6,"a":-72},{"t":115.3,"a":-74},{"t":116.0,"a":-73},{"t":116.7,"a":-72},
{"t":120.8,"a":-36},{"t":121.5,"a":-33},{"t":122.2,"a":-32},{"t":122.9,"a":-34},{"t":123.6,"a":-33},{"t":124.3,"a":-32},{"t":125.0,"a":-34},{"t":125.7,"a":-33},{"t":126.4,"a":-32},{"t":127.1,"a":-34},{"t":127.8,"a":-33},{"t":128.5,"a":-35},{"t":129.2,"a":-34},
{"t":131.8,"a":-2},{"t":132.5,"a":3},{"t":133.2,"a":2},{"t":133.9,"a":1},{"t":134.6,"a":3},{"t":135.3,"a":2},{"t":136.0,"a":4},{"t":136.7,"a":2},{"t":137.4,"a":3},{"t":138.1,"a":1},{"t":138.8,"a":3},{"t":139.5,"a":2},{"t":140.2,"a":0},{"t":140.7,"a":1},
{"t":144.4,"a":28},{"t":145.1,"a":30},{"t":145.8,"a":31},{"t":146.5,"a":29},{"t":147.2,"a":30},{"t":147.9,"a":31},{"t":148.6,"a":29},{"t":149.3,"a":30},{"t":150.0,"a":28},{"t":150.7,"a":31},{"t":151.4,"a":30},{"t":152.1,"a":29},{"t":155.3,"a":37},
{"t":156.8,"a":45},{"t":157.5,"a":47},{"t":158.2,"a":48},{"t":158.9,"a":46},{"t":159.6,"a":47},{"t":160.3,"a":48},{"t":161.0,"a":46},{"t":161.7,"a":47},{"t":162.4,"a":48},{"t":163.1,"a":46},{"t":163.8,"a":47},
{"t":166.0,"a":37},{"t":169.8,"a":27},
{"t":176.0,"a":47},{"t":176.7,"a":48},{"t":177.4,"a":46},{"t":178.1,"a":47},{"t":178.8,"a":48},{"t":179.5,"a":46},{"t":180.2,"a":47},{"t":180.9,"a":48},{"t":181.6,"a":46},{"t":182.3,"a":47},{"t":183.0,"a":45},{"t":183.5,"a":46},
{"t":187.6,"a":17},{"t":187.8,"a":12},{"t":188.1,"a":5},{"t":188.5,"a":0},{"t":188.9,"a":-5},{"t":189.3,"a":-7},{"t":189.7,"a":3},{"t":191.6,"a":18},
{"t":194.0,"a":13},{"t":194.7,"a":12},{"t":195.4,"a":11},{"t":196.1,"a":12},{"t":196.8,"a":13},{"t":197.5,"a":11},{"t":198.2,"a":12},{"t":198.9,"a":13},{"t":199.6,"a":11},{"t":200.3,"a":12},{"t":201.0,"a":11},{"t":201.7,"a":12},{"t":202.4,"a":13},
{"t":207.8,"a":-95},
{"t":210.8,"a":-63},{"t":211.5,"a":-62},{"t":212.2,"a":-63},{"t":212.9,"a":-64},{"t":213.6,"a":-63},{"t":214.3,"a":-62},{"t":215.0,"a":-63},{"t":215.7,"a":-64},{"t":216.4,"a":-63},{"t":217.1,"a":-62},{"t":217.8,"a":-63}
],
"td": [
{"k":1,"t":10.4,"a":43},{"k":1,"t":11.0,"a":44},{"k":1,"t":11.6,"a":43},{"k":1,"t":12.2,"a":42},{"k":1,"t":12.8,"a":43},{"k":1,"t":13.4,"a":44},{"k":1,"t":14.0,"a":43},{"k":1,"t":14.6,"a":42},{"k":1,"t":15.2,"a":44},{"k":1,"t":15.8,"a":43},{"k":1,"t":16.4,"a":44},{"k":1,"t":17.0,"a":43},{"k":1,"t":17.6,"a":42},{"k":1,"t":18.2,"a":43},{"k":1,"t":18.6,"a":44},
{"k":2,"t":22.5,"a":29},{"k":2,"t":23.1,"a":30},{"k":2,"t":23.7,"a":28},{"k":2,"t":24.3,"a":29},{"k":2,"t":24.9,"a":30},{"k":2,"t":25.5,"a":29},{"k":2,"t":26.1,"a":28},{"k":2,"t":26.7,"a":29},{"k":2,"t":27.3,"a":30},{"k":2,"t":27.9,"a":29},{"k":2,"t":28.5,"a":28},{"k":2,"t":29.1,"a":29},{"k":2,"t":29.7,"a":30},{"k":2,"t":30.3,"a":29},
{"k":3,"t":34.5,"a":13},{"k":3,"t":35.1,"a":12},{"k":3,"t":35.7,"a":13},{"k":3,"t":36.3,"a":14},{"k":3,"t":36.9,"a":13},{"k":3,"t":37.5,"a":12},{"k":3,"t":38.1,"a":13},{"k":3,"t":38.7,"a":14},{"k":3,"t":39.3,"a":13},{"k":3,"t":39.9,"a":12},{"k":3,"t":40.5,"a":13},{"k":3,"t":41.1,"a":14},{"k":3,"t":41.7,"a":13},{"k":3,"t":42.3,"a":12},
{"k":4,"t":47.0,"a":-12},{"k":4,"t":47.6,"a":-10},{"k":4,"t":48.2,"a":-9},{"k":4,"t":48.8,"a":-10},{"k":4,"t":49.4,"a":-11},{"k":4,"t":50.0,"a":-10},{"k":4,"t":50.6,"a":-9},{"k":4,"t":51.2,"a":-10},{"k":4,"t":51.8,"a":-11},{"k":4,"t":52.4,"a":-10},{"k":4,"t":53.0,"a":-9},{"k":4,"t":53.6,"a":-10},{"k":4,"t":54.2,"a":-8},{"k":4,"t":54.8,"a":-9},
{"k":5,"t":59.5,"a":-31},{"k":5,"t":60.1,"a":-30},{"k":5,"t":60.7,"a":-29},{"k":5,"t":61.3,"a":-30},{"k":5,"t":61.9,"a":-31},{"k":5,"t":62.5,"a":-30},{"k":5,"t":63.1,"a":-29},{"k":5,"t":63.7,"a":-30},{"k":5,"t":64.3,"a":-31},{"k":5,"t":64.9,"a":-30},{"k":5,"t":65.5,"a":-29},{"k":5,"t":66.1,"a":-30},{"k":5,"t":66.7,"a":-31},{"k":5,"t":67.3,"a":-30},
{"k":6,"t":72.0,"a":-46},{"k":6,"t":72.6,"a":-45},{"k":6,"t":73.2,"a":-44},{"k":6,"t":73.8,"a":-45},{"k":6,"t":74.4,"a":-46},{"k":6,"t":75.0,"a":-45},{"k":6,"t":75.6,"a":-44},{"k":6,"t":76.2,"a":-45},{"k":6,"t":76.8,"a":-46},{"k":6,"t":77.4,"a":-45},{"k":6,"t":78.0,"a":-44},{"k":6,"t":78.6,"a":-45},{"k":6,"t":79.2,"a":-46},{"k":6,"t":79.8,"a":-45},
{"k":7,"t":87.5,"a":-64},{"k":7,"t":88.1,"a":-65},{"k":7,"t":88.7,"a":-66},{"k":7,"t":89.3,"a":-65},{"k":7,"t":89.9,"a":-64},{"k":7,"t":90.5,"a":-65},{"k":7,"t":91.1,"a":-66},{"k":7,"t":91.7,"a":-65},{"k":7,"t":92.0,"a":-64},
{"k":8,"t":97.5,"a":-84},{"k":8,"t":98.1,"a":-83},{"k":8,"t":98.7,"a":-82},{"k":8,"t":99.3,"a":-81},{"k":8,"t":99.9,"a":-82},{"k":8,"t":100.5,"a":-83},{"k":8,"t":101.1,"a":-82},{"k":8,"t":101.7,"a":-80},{"k":8,"t":102.3,"a":-81},{"k":8,"t":102.9,"a":-82},{"k":8,"t":103.5,"a":-83},{"k":8,"t":104.1,"a":-82},{"k":8,"t":104.7,"a":-81},{"k":8,"t":105.3,"a":-82},{"k":8,"t":105.9,"a":-83},
{"k":9,"t":109.0,"a":-76},{"k":9,"t":109.6,"a":-75},{"k":9,"t":110.2,"a":-74},{"k":9,"t":110.8,"a":-75},{"k":9,"t":111.4,"a":-76},{"k":9,"t":112.0,"a":-75},{"k":9,"t":112.6,"a":-74},{"k":9,"t":113.2,"a":-75},{"k":9,"t":113.8,"a":-76},{"k":9,"t":114.4,"a":-75},{"k":9,"t":115.0,"a":-74},{"k":9,"t":115.6,"a":-75},{"k":9,"t":116.2,"a":-76},{"k":9,"t":116.8,"a":-75},
{"k":10,"t":121.5,"a":-34},{"k":10,"t":122.1,"a":-33},{"k":10,"t":122.7,"a":-32},{"k":10,"t":123.3,"a":-33},{"k":10,"t":123.9,"a":-34},{"k":10,"t":124.5,"a":-33},{"k":10,"t":125.1,"a":-32},{"k":10,"t":125.7,"a":-33},{"k":10,"t":126.3,"a":-34},{"k":10,"t":126.9,"a":-33},{"k":10,"t":127.5,"a":-32},{"k":10,"t":128.1,"a":-33},{"k":10,"t":128.7,"a":-34},{"k":10,"t":129.3,"a":-33},
{"k":11,"t":131.6,"a":1},{"k":11,"t":132.2,"a":2},{"k":11,"t":132.8,"a":3},{"k":11,"t":133.4,"a":2},{"k":11,"t":134.0,"a":1},{"k":11,"t":134.6,"a":2},{"k":11,"t":135.2,"a":3},{"k":11,"t":135.8,"a":2},{"k":11,"t":136.4,"a":1},{"k":11,"t":137.0,"a":2},{"k":11,"t":137.6,"a":3},{"k":11,"t":138.2,"a":2},{"k":11,"t":138.8,"a":1},{"k":11,"t":139.4,"a":2},{"k":11,"t":140.0,"a":3},{"k":11,"t":140.6,"a":2},{"k":11,"t":141.0,"a":1},
{"k":12,"t":144.4,"a":27},{"k":12,"t":145.0,"a":28},{"k":12,"t":145.6,"a":29},{"k":12,"t":146.2,"a":28},{"k":12,"t":146.8,"a":27},{"k":12,"t":147.4,"a":28},{"k":12,"t":148.0,"a":29},{"k":12,"t":148.6,"a":28},{"k":12,"t":149.2,"a":27},{"k":12,"t":149.8,"a":28},{"k":12,"t":150.4,"a":29},{"k":12,"t":151.0,"a":28},{"k":12,"t":151.6,"a":27},{"k":12,"t":152.2,"a":28},{"k":12,"t":152.5,"a":29},
{"k":13,"t":154.9,"a":34},{"k":13,"t":155.2,"a":38},{"k":13,"t":155.5,"a":42},{"k":13,"t":155.9,"a":46},{"k":13,"t":156.4,"a":48},{"k":13,"t":157.0,"a":49},{"k":13,"t":157.6,"a":48},{"k":13,"t":158.2,"a":47},{"k":13,"t":158.8,"a":48},{"k":13,"t":159.4,"a":49},{"k":13,"t":160.0,"a":48},{"k":13,"t":160.6,"a":47},{"k":13,"t":161.2,"a":48},{"k":13,"t":161.8,"a":49},{"k":13,"t":162.4,"a":48},{"k":13,"t":163.0,"a":47},{"k":13,"t":163.6,"a":48},{"k":13,"t":164.2,"a":49},{"k":13,"t":164.8,"a":48},
{"k":14,"t":175.7,"a":48},{"k":14,"t":176.3,"a":47},{"k":14,"t":176.9,"a":48},{"k":14,"t":177.5,"a":49},{"k":14,"t":178.1,"a":48},{"k":14,"t":178.7,"a":47},{"k":14,"t":179.3,"a":48},{"k":14,"t":179.9,"a":49},{"k":14,"t":180.5,"a":48},{"k":14,"t":181.1,"a":47},{"k":14,"t":181.7,"a":48},{"k":14,"t":182.3,"a":49},{"k":14,"t":182.9,"a":48},{"k":14,"t":183.5,"a":47},{"k":14,"t":184.0,"a":48},
{"k":15,"t":193.8,"a":11},{"k":15,"t":194.4,"a":10},{"k":15,"t":195.0,"a":9},{"k":15,"t":195.6,"a":10},{"k":15,"t":196.2,"a":11},{"k":15,"t":196.8,"a":10},{"k":15,"t":197.4,"a":9},{"k":15,"t":198.0,"a":10},{"k":15,"t":198.6,"a":11},{"k":15,"t":199.2,"a":10},{"k":15,"t":199.8,"a":9},{"k":15,"t":200.4,"a":10},{"k":15,"t":201.0,"a":11},{"k":15,"t":201.6,"a":10},{"k":15,"t":202.2,"a":9},{"k":15,"t":202.8,"a":10},
{"k":16,"t":210.8,"a":-62},{"k":16,"t":211.4,"a":-63},{"k":16,"t":212.0,"a":-64},{"k":16,"t":212.6,"a":-63},{"k":16,"t":213.2,"a":-62},{"k":16,"t":213.8,"a":-63},{"k":16,"t":214.4,"a":-64},{"k":16,"t":215.0,"a":-63},{"k":16,"t":215.6,"a":-62},{"k":16,"t":216.2,"a":-63},{"k":16,"t":216.8,"a":-64},{"k":16,"t":217.4,"a":-63},{"k":16,"t":218.0,"a":-62}
]
},
"vconcat": [
{
 "title": "(a) SRP PHAT argmax",
 "width": 558, "height": 120,
 "resolve": {"scale": {"x": "independent", "y": "independent"}},
 "layer": [
  {"data": {"name": "gt"}, "mark": {"type": "line", "color": "#ff0000", "strokeWidth": 2},
   "encoding": {
    "x": {"field": "t", "type": "quantitative", "scale": {"domain": [10.3, 218.1], "nice": false, "zero": false}, "axis": {"orient": "top", "values": [20,30,40,50,60,70,80,90,100,110,120,130,140,150,160,170,180,190,200,210], "labels": false, "title": null, "grid": false}},
    "y": {"field": "a", "type": "quantitative", "scale": {"domain": [-180, 180], "nice": false, "zero": false}, "axis": {"orient": "right", "values": [-150,-120,-90,-60,-30,0,30,60,90,120,150], "labels": false, "title": null, "grid": false}}
   }},
  {"data": {"name": "la"}, "mark": {"type": "circle", "size": 15, "color": "#5c5c5c", "opacity": 1},
   "encoding": {
    "x": {"field": "t", "type": "quantitative", "scale": {"domain": [10.3, 218.1], "nice": false, "zero": false}, "axis": {"orient": "bottom", "values": [20,30,40,50,60,70,80,90,100,110,120,130,140,150,160,170,180,190,200,210], "labelExpr": "datum.value % 50 === 0 ? datum.label : ''", "title": null, "grid": true, "gridColor": {"condition": {"test": "datum.value % 50 === 0", "value": "#a0a0a0"}, "value": "transparent"}}},
    "y": {"field": "a", "type": "quantitative", "scale": {"domain": [-180, 180], "nice": false, "zero": false}, "axis": {"orient": "left", "values": [-180,-150,-120,-90,-60,-30,0,30,60,90,120,150,180], "labelExpr": "datum.value % 90 === 0 ? datum.label : ''", "title": "azimuth [ ° ]", "grid": true, "gridColor": {"condition": {"test": "datum.value % 90 === 0 && abs(datum.value) < 180", "value": "#a0a0a0"}, "value": "transparent"}}}
   }}
 ]
},
{
 "title": "(b) spatial likelihood (PoA)",
 "width": 558, "height": 120,
 "resolve": {"scale": {"x": "independent", "y": "independent"}},
 "layer": [
  {"data": {"name": "gt"}, "mark": {"type": "line", "strokeWidth": 2},
   "encoding": {
    "x": {"field": "t", "type": "quantitative", "scale": {"domain": [10.3, 218.1], "nice": false, "zero": false}, "axis": {"orient": "top", "values": [20,30,40,50,60,70,80,90,100,110,120,130,140,150,160,170,180,190,200,210], "labels": false, "title": null, "grid": false}},
    "y": {"field": "a", "type": "quantitative", "scale": {"domain": [-180, 180], "nice": false, "zero": false}, "axis": {"orient": "right", "values": [-150,-120,-90,-60,-30,0,30,60,90,120,150], "labels": false, "title": null, "grid": false}},
    "color": {"datum": "speaker 1", "scale": {"domain": ["speaker 1", "localization"], "range": ["#ff0000", "#303030"]}, "legend": {"legendX": 252, "legendY": 104}}
   }},
  {"data": {"name": "lb"}, "mark": {"type": "circle", "size": 48, "opacity": 0.95, "stroke": "#1e1e1e", "strokeWidth": 0.6},
   "encoding": {
    "x": {"field": "t", "type": "quantitative", "scale": {"domain": [10.3, 218.1], "nice": false, "zero": false}, "axis": {"orient": "bottom", "values": [20,30,40,50,60,70,80,90,100,110,120,130,140,150,160,170,180,190,200,210], "labelExpr": "datum.value % 50 === 0 ? datum.label : ''", "title": null, "grid": true, "gridColor": {"condition": {"test": "datum.value % 50 === 0", "value": "#a0a0a0"}, "value": "transparent"}}},
    "y": {"field": "a", "type": "quantitative", "scale": {"domain": [-180, 180], "nice": false, "zero": false}, "axis": {"orient": "left", "values": [-180,-150,-120,-90,-60,-30,0,30,60,90,120,150,180], "labelExpr": "datum.value % 90 === 0 ? datum.label : ''", "title": "azimuth [ ° ]", "grid": true, "gridColor": {"condition": {"test": "datum.value % 90 === 0 && abs(datum.value) < 180", "value": "#a0a0a0"}, "value": "transparent"}}},
    "color": {"datum": "localization"}
   }},
  {"data": {"name": "gt"}, "mark": {"type": "point", "opacity": 0},
   "encoding": {
    "x": {"field": "t", "type": "quantitative", "scale": {"domain": [10.3, 218.1], "nice": false, "zero": false}, "axis": null},
    "y": {"field": "a", "type": "quantitative", "scale": {"domain": [-180, 180], "nice": false, "zero": false}, "axis": null},
    "shape": {"datum": "localization", "scale": {"domain": ["speaker 1", "localization"], "range": ["stroke", "M-0.9,0a0.05,0.05 0 1,0 0.1,0a0.05,0.05 0 1,0 -0.1,0M-0.05,0a0.05,0.05 0 1,0 0.1,0a0.05,0.05 0 1,0 -0.1,0M0.8,0a0.05,0.05 0 1,0 0.1,0a0.05,0.05 0 1,0 -0.1,0"]}, "legend": {"legendX": 252, "legendY": 104}}
   }}
 ]
},
{
 "title": "(c) clustered by spectrum and azimuth",
 "width": 558, "height": 120,
 "resolve": {"scale": {"x": "independent", "y": "independent"}},
 "layer": [
  {"data": {"name": "gt"}, "mark": {"type": "line", "strokeWidth": 2},
   "encoding": {
    "x": {"field": "t", "type": "quantitative", "scale": {"domain": [10.3, 218.1], "nice": false, "zero": false}, "axis": {"orient": "top", "values": [20,30,40,50,60,70,80,90,100,110,120,130,140,150,160,170,180,190,200,210], "labels": false, "title": null, "grid": false}},
    "y": {"field": "a", "type": "quantitative", "scale": {"domain": [-180, 180], "nice": false, "zero": false}, "axis": {"orient": "right", "values": [-150,-120,-90,-60,-30,0,30,60,90,120,150], "labels": false, "title": null, "grid": false}},
    "color": {"datum": "speaker 1", "scale": {"domain": ["speaker 1", "cluster"], "range": ["#ff0000", "#444444"]}, "legend": {"legendX": 287, "legendY": 104}}
   }},
  {"data": {"name": "lc"}, "mark": {"type": "circle", "size": 15, "opacity": 1},
   "encoding": {
    "x": {"field": "t", "type": "quantitative", "scale": {"domain": [10.3, 218.1], "nice": false, "zero": false}, "axis": {"orient": "bottom", "values": [20,30,40,50,60,70,80,90,100,110,120,130,140,150,160,170,180,190,200,210], "labelExpr": "datum.value % 50 === 0 ? datum.label : ''", "title": null, "grid": true, "gridColor": {"condition": {"test": "datum.value % 50 === 0", "value": "#a0a0a0"}, "value": "transparent"}}},
    "y": {"field": "a", "type": "quantitative", "scale": {"domain": [-180, 180], "nice": false, "zero": false}, "axis": {"orient": "left", "values": [-180,-150,-120,-90,-60,-30,0,30,60,90,120,150,180], "labelExpr": "datum.value % 90 === 0 ? datum.label : ''", "title": "azimuth [ ° ]", "grid": true, "gridColor": {"condition": {"test": "datum.value % 90 === 0 && abs(datum.value) < 180", "value": "#a0a0a0"}, "value": "transparent"}}},
    "color": {"datum": "cluster"}
   }},
  {"data": {"name": "gt"}, "mark": {"type": "point", "opacity": 0},
   "encoding": {
    "x": {"field": "t", "type": "quantitative", "scale": {"domain": [10.3, 218.1], "nice": false, "zero": false}, "axis": null},
    "y": {"field": "a", "type": "quantitative", "scale": {"domain": [-180, 180], "nice": false, "zero": false}, "axis": null},
    "shape": {"datum": "cluster", "scale": {"domain": ["speaker 1", "cluster"], "range": ["stroke", "M-0.9,0a0.05,0.05 0 1,0 0.1,0a0.05,0.05 0 1,0 -0.1,0M-0.05,0a0.05,0.05 0 1,0 0.1,0a0.05,0.05 0 1,0 -0.1,0M0.8,0a0.05,0.05 0 1,0 0.1,0a0.05,0.05 0 1,0 -0.1,0"]}, "legend": {"legendX": 287, "legendY": 104}}
   }}
 ]
},
{
 "title": "(d) tracking",
 "width": 558, "height": 120,
 "resolve": {"scale": {"x": "independent", "y": "independent"}},
 "layer": [
  {"data": {"name": "gt"}, "mark": {"type": "line", "strokeWidth": 2},
   "encoding": {
    "x": {"field": "t", "type": "quantitative", "scale": {"domain": [10.3, 218.1], "nice": false, "zero": false}, "axis": {"orient": "top", "values": [20,30,40,50,60,70,80,90,100,110,120,130,140,150,160,170,180,190,200,210], "labels": false, "title": null, "grid": false}},
    "y": {"field": "a", "type": "quantitative", "scale": {"domain": [-180, 180], "nice": false, "zero": false}, "axis": {"orient": "right", "values": [-150,-120,-90,-60,-30,0,30,60,90,120,150], "labels": false, "title": null, "grid": false}},
    "color": {"datum": "speaker 1", "scale": {"domain": ["speaker 1", "tracks"], "range": ["#ff0000", "#000000"]}, "legend": {"legendX": 292, "legendY": 104}}
   }},
  {"data": {"name": "td"}, "mark": {"type": "line", "strokeWidth": 1.5},
   "encoding": {
    "x": {"field": "t", "type": "quantitative", "scale": {"domain": [10.3, 218.1], "nice": false, "zero": false}, "axis": {"orient": "bottom", "values": [20,30,40,50,60,70,80,90,100,110,120,130,140,150,160,170,180,190,200,210], "labelExpr": "datum.value % 50 === 0 ? datum.label : ''", "title": "time [s]", "titlePadding": 2, "grid": true, "gridColor": {"condition": {"test": "datum.value % 50 === 0", "value": "#a0a0a0"}, "value": "transparent"}}},
    "y": {"field": "a", "type": "quantitative", "scale": {"domain": [-180, 180], "nice": false, "zero": false}, "axis": {"orient": "left", "values": [-180,-150,-120,-90,-60,-30,0,30,60,90,120,150,180], "labelExpr": "datum.value % 90 === 0 ? datum.label : ''", "title": "azimuth [ ° ]", "grid": true, "gridColor": {"condition": {"test": "datum.value % 90 === 0 && abs(datum.value) < 180", "value": "#a0a0a0"}, "value": "transparent"}}},
    "detail": {"field": "k", "type": "nominal"},
    "color": {"datum": "tracks"}
   }},
  {"data": {"name": "td"}, "mark": {"type": "point", "shape": "M-1,-1L1,1M-1,1L1,-1", "filled": false, "size": 26, "color": "#000000", "strokeWidth": 1.2, "opacity": 1},
   "encoding": {
    "x": {"field": "t", "type": "quantitative", "scale": {"domain": [10.3, 218.1], "nice": false, "zero": false}, "axis": null},
    "y": {"field": "a", "type": "quantitative", "scale": {"domain": [-180, 180], "nice": false, "zero": false}, "axis": null}
   }},
  {"data": {"name": "gt"}, "mark": {"type": "point", "opacity": 0},
   "encoding": {
    "x": {"field": "t", "type": "quantitative", "scale": {"domain": [10.3, 218.1], "nice": false, "zero": false}, "axis": null},
    "y": {"field": "a", "type": "quantitative", "scale": {"domain": [-180, 180], "nice": false, "zero": false}, "axis": null},
    "shape": {"datum": "tracks", "scale": {"domain": ["speaker 1", "tracks"], "range": ["stroke", "M-0.85,0L0.85,0M-1,-0.14L-0.7,0.14M-1,0.14L-0.7,-0.14M0.7,-0.14L1,0.14M0.7,0.14L1,-0.14"]}, "legend": {"legendX": 292, "legendY": 104}}
   }}
 ]
}
]
}
